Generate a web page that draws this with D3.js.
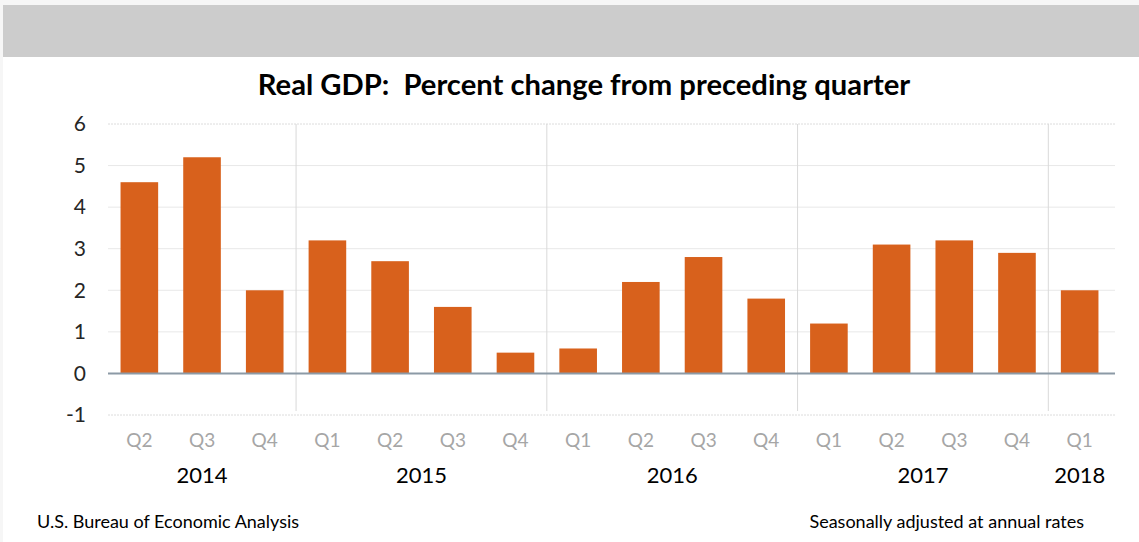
<!DOCTYPE html>
<html>
<head>
<meta charset="utf-8">
<script src="https://cdn.jsdelivr.net/npm/d3@7"></script>
<style>
  html, body { margin: 0; padding: 0; background: #ffffff; }
  svg { display: block; font-family: Lato, "Open Sans", sans-serif; }
</style>
</head>
<body>
<div id="chart"></div>
<script>
// quarterly real GDP, percent change from preceding quarter (SAAR)
const quarters = ['Q2', 'Q3', 'Q4', 'Q1', 'Q2', 'Q3', 'Q4', 'Q1', 'Q2', 'Q3', 'Q4', 'Q1', 'Q2', 'Q3', 'Q4', 'Q1'];
const years = ['2014', '2014', '2014', '2015', '2015', '2015', '2015', '2016', '2016', '2016', '2016', '2017', '2017', '2017', '2017', '2018'];
const growth = [4.6, 5.2, 2.0, 3.2, 2.7, 1.6, 0.5, 0.6, 2.2, 2.8, 1.8, 1.2, 3.1, 3.2, 2.9, 2.0];
const yTicks = [-1, 0, 1, 2, 3, 4, 5, 6];
const yearLabels = ['2014', '2015', '2016', '2017', '2018'];

const width = 1139, height = 542;
const margin = { top: 124, right: 28, bottom: 127, left: 108 };

const svg = d3.select('#chart').append('svg')
  .attr('width', width)
  .attr('height', height);

// header band
svg.append('rect').attr('x', 0).attr('y', 0).attr('width', width).attr('height', 5).attr('fill', '#f6f6f6');
svg.append('rect').attr('x', 0).attr('y', 0).attr('width', 3).attr('height', height).attr('fill', '#f6f6f6');
svg.append('rect').attr('x', 3).attr('y', 5).attr('width', width - 3).attr('height', 52).attr('fill', '#cccccc');

svg.append('text')
  .attr('x', 584).attr('y', 95)
  .attr('text-anchor', 'middle')
  .attr('font-size', 29.2)
  .attr('font-weight', 'bold')
  .attr('fill', '#000')
  .style('white-space', 'pre')
  .text('Real GDP:  Percent change from preceding quarter');

const keys = growth.map((d, i) => i);

const x = d3.scaleBand()
  .domain(keys)
  .range([margin.left, width - margin.right])
  .paddingInner(0.4)
  .paddingOuter(0.2);

const y = d3.scaleLinear()
  .domain([-1, 6])
  .range([height - margin.bottom, margin.top]);

// gridlines
svg.append('g')
  .selectAll('line')
  .data(yTicks.filter(t => t !== 0))
  .join('line')
  .attr('x1', margin.left).attr('x2', width - margin.right + 4)
  .attr('y1', d => y(d)).attr('y2', d => y(d))
  .attr('stroke', d => (d === -1 || d === 6) ? '#dcdcdc' : '#e8e8e8')
  .attr('stroke-dasharray', d => (d === -1 || d === 6) ? '2,1' : null)
  .attr('stroke-width', 1);

// year dividers
const step = x.step();
const dividers = keys.filter(i => i > 0 && years[i] !== years[i - 1]);
svg.append('g')
  .selectAll('line')
  .data(dividers)
  .join('line')
  .attr('x1', i => x(i) - step * x.paddingInner() / 2)
  .attr('x2', i => x(i) - step * x.paddingInner() / 2)
  .attr('y1', y(6)).attr('y2', y(-1) - 4)
  .attr('stroke', '#d9d9d9')
  .attr('stroke-width', 1);

// bars
svg.append('g')
  .selectAll('rect')
  .data(keys)
  .join('rect')
  .attr('x', i => x(i))
  .attr('width', x.bandwidth())
  .attr('y', i => y(Math.max(0, growth[i])))
  .attr('height', i => Math.abs(y(growth[i]) - y(0)))
  .attr('fill', '#d8611c');

// zero line
svg.append('line')
  .attr('x1', margin.left).attr('x2', width - margin.right + 4)
  .attr('y1', y(0)).attr('y2', y(0))
  .attr('stroke', '#8c9aa6')
  .attr('stroke-width', 2);

// y axis labels
const yAxis = svg.append('g')
  .attr('transform', `translate(${margin.left - 22},0)`)
  .call(d3.axisLeft(y).tickValues(yTicks).tickSize(0).tickPadding(0).tickFormat(d => String(d)));
yAxis.select('.domain').remove();
yAxis.selectAll('text')
  .attr('font-size', 21)
  .attr('font-family', 'Lato, "Open Sans", sans-serif')
  .attr('fill', '#262626');

// quarter labels
const xAxis = svg.append('g')
  .attr('transform', `translate(0,${y(-1) + 18})`)
  .call(d3.axisBottom(x).tickSize(0).tickPadding(0).tickFormat(i => quarters[i]));
xAxis.select('.domain').remove();
xAxis.selectAll('text')
  .attr('font-size', 19)
  .attr('font-family', 'Lato, "Open Sans", sans-serif')
  .attr('fill', '#a6a6a6');

// year labels, centred under their quarters
svg.append('g')
  .selectAll('text')
  .data(yearLabels)
  .join('text')
  .attr('x', yr => {
    const idx = keys.filter(i => years[i] === yr);
    return (x(idx[0]) + x(idx[idx.length - 1]) + x.bandwidth()) / 2;
  })
  .attr('y', 483)
  .attr('text-anchor', 'middle')
  .attr('font-size', 22)
  .attr('fill', '#000')
  .text(d => d);

// footer
svg.append('text')
  .attr('x', 37).attr('y', 528)
  .attr('font-size', 18)
  .attr('fill', '#000')
  .text('U.S. Bureau of Economic Analysis');

svg.append('text')
  .attr('x', 1084).attr('y', 528)
  .attr('text-anchor', 'end')
  .attr('font-size', 18)
  .attr('fill', '#000')
  .text('Seasonally adjusted at annual rates');
</script>
</body>
</html>
